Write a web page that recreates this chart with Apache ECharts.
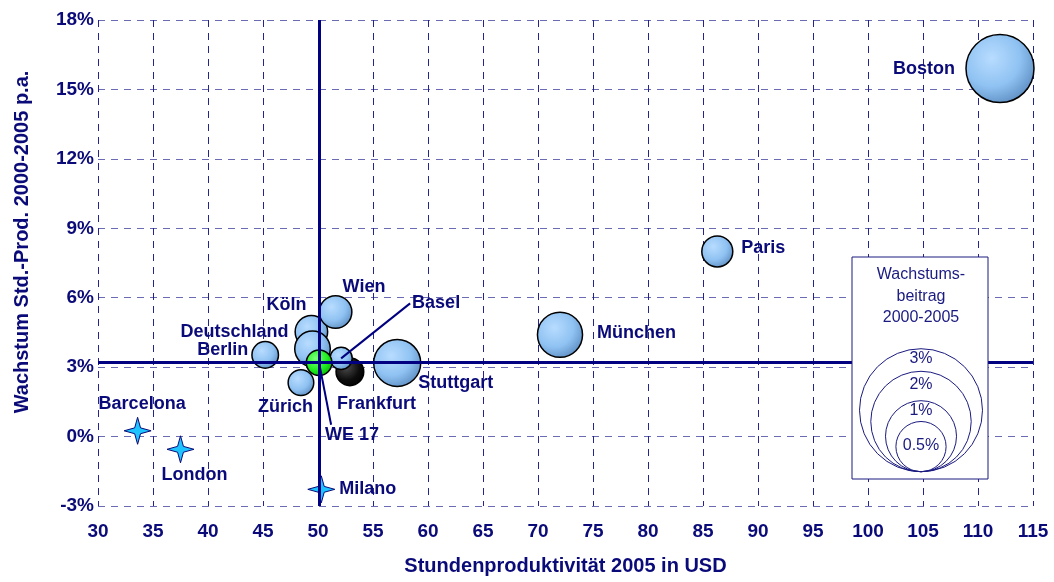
<!DOCTYPE html>
<html>
<head>
<meta charset="utf-8">
<script src="https://cdn.jsdelivr.net/npm/echarts@6/dist/echarts.min.js"></script>
<style>
  html, body { margin: 0; padding: 0; background: #fff; }
  #main { width: 1054px; height: 582px; }
</style>
</head>
<body>
<div id="main"></div>
<script>
// Staedte mit Blase (Groesse = Wachstumsbeitrag)
var cities = ['Boston', 'Paris', 'München', 'Stuttgart', 'Berlin', 'Zürich', 'Köln', 'Wien', 'Deutschland', 'Frankfurt', 'Basel', 'WE 17'];
var produktivitaet = [112.0, 86.3, 72.0, 57.2, 45.2, 48.45, 49.4, 51.6, 49.5, 52.9, 52.1, 50.1];
var wachstum = [15.9, 8.0, 4.4, 3.18, 3.53, 2.33, 4.53, 5.38, 3.79, 2.80, 3.38, 3.19];
var beitrag = [2.89, 0.60, 1.27, 1.38, 0.44, 0.41, 0.66, 0.66, 0.79, 0.48, 0.31, 0.41];

// Staedte ohne Blase (Stern)
var starCities = ['Barcelona', 'London', 'Milano'];
var starProd = [33.6, 37.5, 50.3];
var starWachstum = [0.25, -0.55, -2.28];

var legendValues = [3, 2, 1, 0.5];
var legendLabels = ['3%', '2%', '1%', '0.5%'];

var xTicks = { min: 30, max: 115, interval: 5 };
var yTicks = { min: -3, max: 18, interval: 3 };

var NAVY = '#0a0a78';
var FONT = '"Liberation Sans", Arial, sans-serif';

// label placement: [align, dx, dy] relativ zum Blasenmittelpunkt
var labelPlace = {
  'Boston': ['right', -45, 0],
  'Paris': ['left', 24, -3],
  'München': ['left', 37, -2],
  'Stuttgart': ['left', 21, 20],
  'Berlin': ['right', -17, -5],
  'Zürich': ['left', -43, 24],
  'Köln': ['right', -5, -27],
  'Wien': ['left', 7, -25],
  'Deutschland': ['right', -24, -17],
  'Frankfurt': ['left', -13, 32],
  'Basel': ['left', 71, -55],
  'WE 17': ['left', 6, 72],
  'Barcelona': ['left', -39, -27],
  'London': ['left', -19, 26],
  'Milano': ['left', 18, 0]
};
var leaders = { 'Basel': [69, -55], 'WE 17': [12, 62] };

var blue = {
  type: 'radial', x: 0.38, y: 0.35, r: 0.75,
  colorStops: [{ offset: 0, color: '#b8dcff' }, { offset: 0.55, color: '#8fc2f2' }, { offset: 1, color: '#5685bb' }]
};
var green = {
  type: 'radial', x: 0.38, y: 0.35, r: 0.75,
  colorStops: [{ offset: 0, color: '#7dff7d' }, { offset: 0.55, color: '#22ee22' }, { offset: 1, color: '#00aa00' }]
};
var black = {
  type: 'radial', x: 0.38, y: 0.35, r: 0.75,
  colorStops: [{ offset: 0, color: '#4a4a4a' }, { offset: 0.6, color: '#0c0c0c' }, { offset: 1, color: '#000' }]
};

function makeLabel(name) {
  var p = labelPlace[name];
  return {
    show: true,
    position: 'inside',
    align: p[0],
    verticalAlign: 'middle',
    offset: [p[1], p[2]],
    formatter: name,
    color: NAVY,
    opacity: 1,
    textBorderWidth: 0,
    fontFamily: FONT,
    fontWeight: 'bold',
    fontSize: 18
  };
}

var bubbleData = cities.map(function (c, i) {
  var fill = blue;
  if (c === 'WE 17') fill = green;
  if (c === 'Frankfurt') fill = black;
  return {
    name: c,
    value: [produktivitaet[i], wachstum[i], beitrag[i]],
    itemStyle: { color: fill, borderColor: '#000', borderWidth: 1.5, opacity: 1 },
    label: makeLabel(c)
  };
});

var starData = starCities.map(function (c, i) {
  return { name: c, value: [starProd[i], starWachstum[i]], label: makeLabel(c) };
});

var we = cities.indexOf('WE 17');

var chart = echarts.init(document.getElementById('main'));

var option = {
  animation: false,
  backgroundColor: '#fff',
  grid: { left: 98, right: 21, top: 20, bottom: 76 },
  xAxis: {
    type: 'value',
    min: xTicks.min, max: xTicks.max, interval: xTicks.interval,
    name: 'Stundenproduktivität 2005 in USD',
    nameLocation: 'middle',
    nameGap: 50,
    nameTextStyle: { color: NAVY, fontFamily: FONT, fontWeight: 'bold', fontSize: 20 },
    axisLine: { show: false },
    axisTick: { show: false },
    axisLabel: { color: NAVY, fontFamily: FONT, fontWeight: 'bold', fontSize: 19, margin: 16 },
    splitLine: { show: true, lineStyle: { color: '#24248e', width: 1, type: [7, 6] } }
  },
  yAxis: {
    type: 'value',
    min: yTicks.min, max: yTicks.max, interval: yTicks.interval,
    axisLine: { show: false },
    axisTick: { show: false },
    axisLabel: { color: NAVY, fontFamily: FONT, fontWeight: 'bold', fontSize: 19, margin: 4, formatter: '{value}%' },
    splitLine: { show: true, lineStyle: { color: '#6b6bb3', width: 1, type: [7, 6] } }
  },
  series: [
    {
      // Achsenkreuz durch WE 17
      type: 'scatter',
      data: [],
      z: 1,
      markLine: {
        silent: true,
        symbol: 'none',
        label: { show: false },
        lineStyle: { color: '#000080', width: 3, type: 'solid', opacity: 1 },
        data: [{ xAxis: produktivitaet[we] }, { yAxis: wachstum[we] }]
      }
    },
    {
      type: 'scatter',
      z: 3,
      data: bubbleData,
      itemStyle: { opacity: 1 },
      symbolSize: function (v) { return 40 * Math.sqrt(v[2]); }
    },
    {
      type: 'scatter',
      z: 4,
      data: starData,
      symbol: 'path://M0,-12 L2.6,-2.6 L12,0 L2.6,2.6 L0,12 L-2.6,2.6 L-12,0 L-2.6,-2.6 Z',
      symbolSize: 27,
      itemStyle: { color: '#1ec4ff', borderColor: '#0a0a78', borderWidth: 1, opacity: 1 }
    }
  ]
};
chart.setOption(option);

// Legende, Achsentitel und Hinweislinien
var graphics = [];
graphics.push({
  type: 'text', x: 22, y: 242, rotation: Math.PI / 2, z: 20,
  style: { text: 'Wachstum Std.-Prod. 2000-2005 p.a.', fill: NAVY, font: 'bold 20px ' + FONT, textAlign: 'center', textVerticalAlign: 'middle' }
});
graphics.push({
  type: 'rect', z: 20,
  shape: { x: 852, y: 257, width: 136, height: 222 },
  style: { fill: '#fff', stroke: '#1a1a80', lineWidth: 1 }
});
graphics.push({
  type: 'text', x: 921, y: 264, z: 21,
  style: { text: 'Wachstums-\nbeitrag\n2000-2005', fill: '#1a1a80', font: '16px ' + FONT, textAlign: 'center', lineHeight: 21.5 }
});
var baseY = 471.7, cx = 921, R1 = 35.5;
legendValues.forEach(function (v, i) {
  var r = R1 * Math.sqrt(v);
  graphics.push({
    type: 'circle', z: 21,
    shape: { cx: cx, cy: baseY - r, r: r },
    style: { fill: 'none', stroke: '#1a1a80', lineWidth: 1 }
  });
  var top = baseY - 2 * r;
  var nextTop = i < legendValues.length - 1 ? baseY - 2 * R1 * Math.sqrt(legendValues[i + 1]) : baseY;
  graphics.push({
    type: 'text', x: cx, y: (top + nextTop) / 2 - 1, z: 22,
    style: { text: legendLabels[i], fill: '#1a1a80', font: '16px ' + FONT, textAlign: 'center', textVerticalAlign: 'middle' }
  });
});
Object.keys(leaders).forEach(function (name) {
  var i = cities.indexOf(name);
  var p = chart.convertToPixel({ seriesIndex: 1 }, [produktivitaet[i], wachstum[i]]);
  var d = leaders[name];
  graphics.push({
    type: 'line', z: 30,
    shape: { x1: p[0], y1: p[1], x2: p[0] + d[0], y2: p[1] + d[1] },
    style: { stroke: '#000080', lineWidth: 2 }
  });
});
chart.setOption({ graphic: graphics });
</script>
</body>
</html>
